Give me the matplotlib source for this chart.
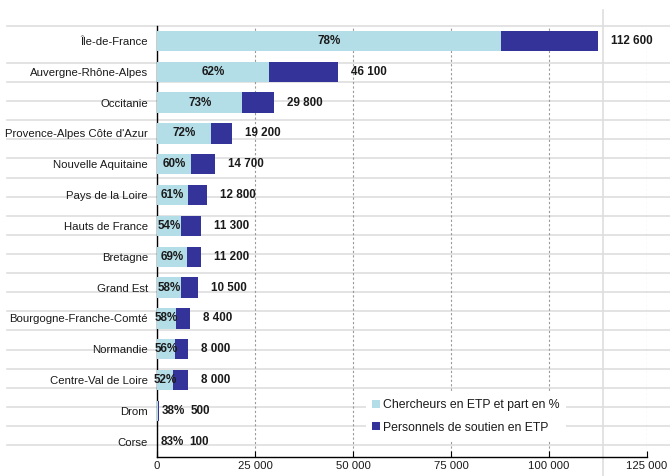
import matplotlib
matplotlib.use('Agg')
import matplotlib.pyplot as plt
from matplotlib.lines import Line2D
from matplotlib.patches import Patch

regions = ["Île-de-France", "Auvergne-Rhône-Alpes", "Occitanie",
           "Provence-Alpes Côte d'Azur", "Nouvelle Aquitaine", "Pays de la Loire",
           "Hauts de France", "Bretagne", "Grand Est", "Bourgogne-Franche-Comté",
           "Normandie", "Centre-Val de Loire", "Drom", "Corse"]
researchers = [87800, 28600, 21800, 13800, 8800, 7800, 6100, 7700, 6100, 4900, 4500, 4200, 200, 80]
support = [24800, 17500, 8000, 5400, 5900, 5000, 5200, 3500, 4400, 3500, 3500, 3800, 300, 20]
totals = [112600, 46100, 29800, 19200, 14700, 12800, 11300, 11200, 10500, 8400, 8000, 8000, 500, 100]
shares = ["78%", "62%", "73%", "72%", "60%", "61%", "54%", "69%", "58%", "58%", "56%", "52%", "38%", "83%"]
total_labels = ["112 600", "46 100", "29 800", "19 200", "14 700", "12 800", "11 300",
                "11 200", "10 500", "8 400", "8 000", "8 000", "500", "100"]
xticks = [0, 25000, 50000, 75000, 100000, 125000]
xtick_labels = ["0", "25 000", "50 000", "75 000", "100 000", "125 000"]
legend_labels = ["Chercheurs en ETP et part en %", "Personnels de soutien en ETP"]

LIGHT = '#B3DDE7'
DARK = '#333399'
TXT = '#1a1a1a'

plt.rcParams['font.family'] = ['Liberation Sans', 'DejaVu Sans']

W, H = 670, 476
fig = plt.figure(figsize=(W / 100, H / 100), dpi=100)

# spreadsheet cell grid in the background
cell_rows = [26] + [63 + 19.1 * k for k in range(21)]
for ypx in cell_rows:
    fig.add_artist(Line2D([7 / W, 1], [1 - ypx / H] * 2, color='#DEDEDE', lw=1.2, zorder=-5))
fig.add_artist(Line2D([603 / W] * 2, [0, 1 - 10 / H], color='#DEDEDE', lw=1.2, zorder=-5))

ax = fig.add_axes([157 / W, 1 - 457 / H, 490 / W, (457 - 25.6) / H])
ax.set_facecolor('none')

ypos = list(range(len(regions)))
ax.barh(ypos, researchers, height=0.66, color=LIGHT, zorder=3)
ax.barh(ypos, support, left=researchers, height=0.66, color=DARK, zorder=3)

ax.set_xlim(0, 125000)
ax.set_ylim(len(regions) - 0.5, -0.5)

FS = 8.4
for i in ypos:
    if totals[i] < 2000:
        ax.annotate(shares[i], (totals[i], i), xytext=(3, 0), textcoords='offset pixels',
                    ha='left', va='center', fontsize=FS, fontweight='bold', color=TXT, zorder=5)
        ax.annotate(total_labels[i], (totals[i], i), xytext=(32, 0), textcoords='offset pixels',
                    ha='left', va='center', fontsize=FS, fontweight='bold', color=TXT, zorder=5)
    else:
        ax.text(researchers[i] / 2, i, shares[i], ha='center', va='center',
                fontsize=FS, fontweight='bold', color=TXT, zorder=5)
        ax.annotate(total_labels[i], (totals[i], i), xytext=(13, 0), textcoords='offset pixels',
                    ha='left', va='center', fontsize=FS, fontweight='bold', color=TXT, zorder=5)

ax.set_yticks(ypos)
ax.set_yticklabels(regions, fontsize=8.2, color=TXT)
ax.set_xticks(xticks)
ax.set_xticklabels(xtick_labels, fontsize=8.2, color=TXT)
ax.tick_params(axis='y', length=0, pad=6.5)
ax.tick_params(axis='x', direction='in', length=4, width=0.8, pad=3)

for s in ['top', 'right']:
    ax.spines[s].set_visible(False)
for s in ['left', 'bottom']:
    ax.spines[s].set_color('black')
    ax.spines[s].set_linewidth(1.0)

ax.xaxis.grid(True, linestyle=(0, (2, 2)), color='#9a9a9a', lw=0.8)
ax.set_axisbelow(True)

handles = [Patch(facecolor=LIGHT, label=legend_labels[0]),
           Patch(facecolor=DARK, label=legend_labels[1])]
leg = ax.legend(handles=handles, loc='lower left', bbox_to_anchor=(0.427, 0.04),
                borderaxespad=0, frameon=True, facecolor='white', edgecolor='none',
                framealpha=1, fancybox=False, handlelength=0.6, handleheight=0.6,
                handletextpad=0.3, labelspacing=0.85, fontsize=8.8, borderpad=0.5)
for t in leg.get_texts():
    t.set_color(TXT)
leg.set_zorder(6)

fig.savefig('out.png', dpi=100)
